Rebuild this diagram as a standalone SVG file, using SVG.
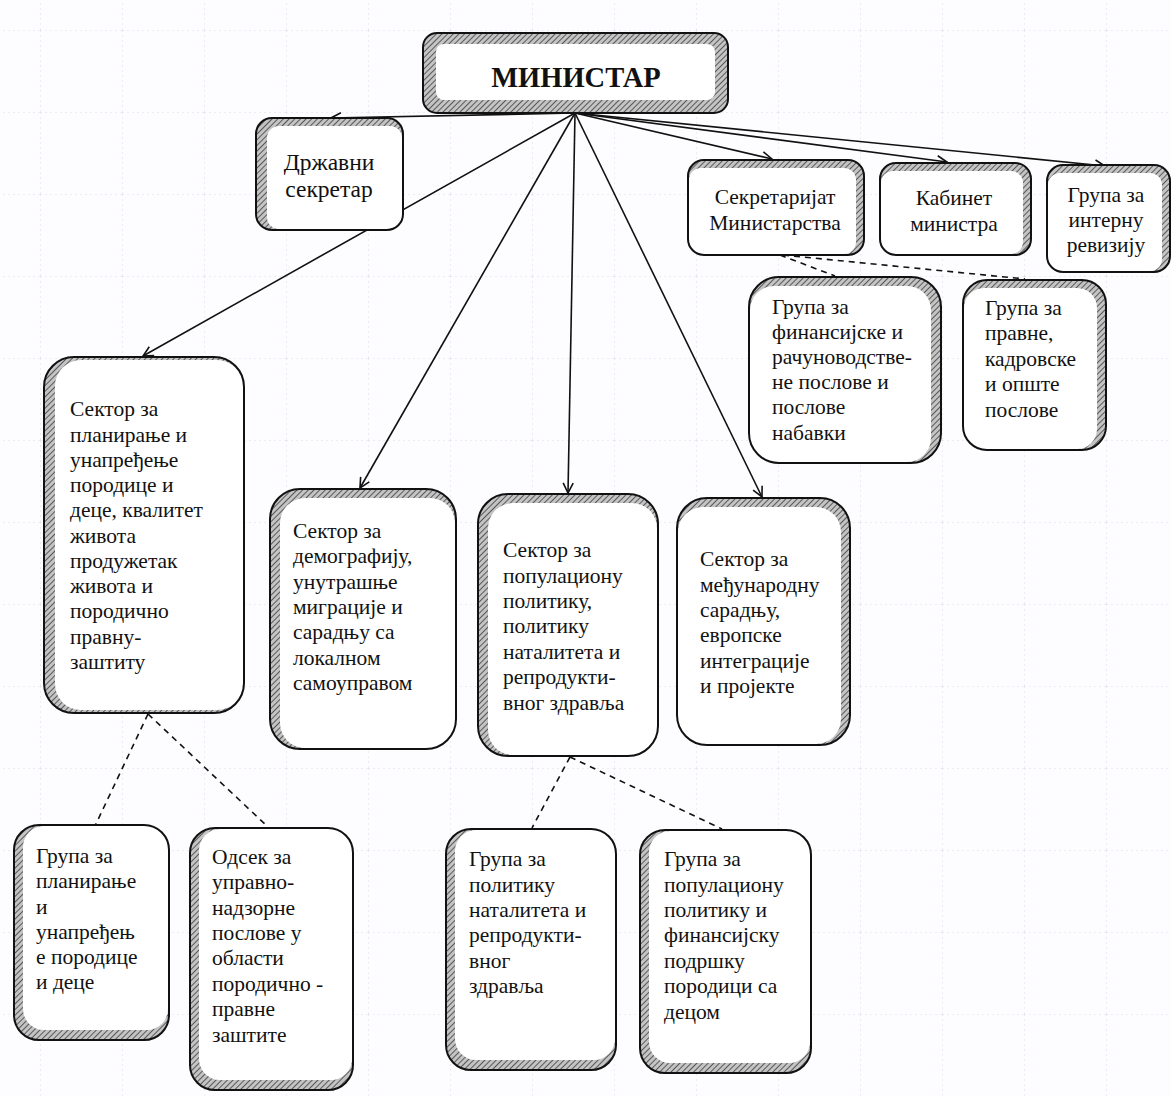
<svg xmlns="http://www.w3.org/2000/svg" width="1171" height="1096" viewBox="0 0 1171 1096">
<defs>
<pattern id="hatch" patternUnits="userSpaceOnUse" width="4" height="4" patternTransform="rotate(45)">
<rect width="4" height="4" fill="#c4c4c4"/>
<line x1="0" y1="0" x2="0" y2="4" stroke="#444" stroke-width="1.7"/>
</pattern>
<pattern id="grid" patternUnits="userSpaceOnUse" width="82" height="82" x="40" y="30">
<path d="M0,0 H82 M0,0 V82" fill="none" stroke="#dcdce6" stroke-width="1" stroke-dasharray="2 3"/>
</pattern>
<marker id="arr" viewBox="0 0 12 12" refX="11" refY="6" markerWidth="12" markerHeight="12" markerUnits="userSpaceOnUse" orient="auto">
<path d="M1,1 L11,6 L1,11" fill="none" stroke="#111" stroke-width="1.6"/>
</marker>
<style>
.o{fill:url(#hatch);stroke:none}
.i{fill:#fff;stroke:none}
.b{fill:none;stroke:#111;stroke-width:2}
text{font-family:'Liberation Serif','DejaVu Serif',serif;font-size:21.5px;fill:#111}
.c{text-anchor:middle}
.big{font-size:28.5px;font-weight:bold}
.mid{font-size:23.5px}
.l{stroke:#111;stroke-width:1.6;fill:none}
.d{stroke:#111;stroke-width:1.6;fill:none;stroke-dasharray:6 5}
</style>
</defs>
<rect width="1171" height="1096" fill="#fdfcfe"/>
<rect width="1171" height="1096" fill="url(#grid)"/>

<g id="connectors">
<line class="l" x1="575" y1="113" x2="331" y2="118" marker-end="url(#arr)"/>
<line class="l" x1="575" y1="113" x2="143" y2="356" marker-end="url(#arr)"/>
<line class="l" x1="575" y1="113" x2="360" y2="488" marker-end="url(#arr)"/>
<line class="l" x1="575" y1="113" x2="568" y2="493" marker-end="url(#arr)"/>
<line class="l" x1="575" y1="113" x2="762" y2="497" marker-end="url(#arr)"/>
<line class="l" x1="575" y1="113" x2="772" y2="159" marker-end="url(#arr)"/>
<line class="l" x1="575" y1="113" x2="947" y2="162" marker-end="url(#arr)"/>
<line class="l" x1="575" y1="113" x2="1105" y2="166" marker-end="url(#arr)"/>
<line class="d" x1="780" y1="255" x2="835" y2="276"/>
<line class="d" x1="783" y1="255" x2="1025" y2="279"/>
<line class="d" x1="148" y1="714" x2="95" y2="826"/>
<line class="d" x1="148" y1="714" x2="267" y2="826"/>
<line class="d" x1="570" y1="757" x2="532" y2="828"/>
<line class="d" x1="570" y1="757" x2="722" y2="829"/>
</g>

<g id="ministar">
<rect class="o" x="423" y="33" width="305" height="80" rx="14"/>
<rect class="i" x="436" y="44" width="279" height="56" rx="8"/>
<rect class="b" x="423" y="33" width="305" height="80" rx="14"/>
<text class="c big" x="576" y="87">МИНИСТАР</text>
</g>

<g id="drzavni-sekretar">
<rect class="o" x="256" y="118" width="147" height="112" rx="16"/>
<rect class="i" x="267" y="126" width="135" height="103" rx="12"/>
<rect class="b" x="256" y="118" width="147" height="112" rx="16"/>
<text class="c mid" x="329" y="170">Државни</text>
<text class="c mid" x="329" y="197">секретар</text>
</g>

<g id="sekretarijat">
<rect class="o" x="688" y="160" width="176" height="95" rx="16"/>
<rect class="i" x="689" y="168" width="167" height="86" rx="12"/>
<rect class="b" x="688" y="160" width="176" height="95" rx="16"/>
<text class="c" x="775" y="204">Секретаријат</text>
<text class="c" x="775" y="230">Министарства</text>
</g>

<g id="kabinet">
<rect class="o" x="880" y="163" width="151" height="92" rx="16"/>
<rect class="i" x="881" y="171" width="142" height="83" rx="12"/>
<rect class="b" x="880" y="163" width="151" height="92" rx="16"/>
<text class="c" x="954" y="205">Кабинет</text>
<text class="c" x="954" y="231">министра</text>
</g>

<g id="interna-revizija">
<rect class="o" x="1047" y="165" width="123" height="107" rx="16"/>
<rect class="i" x="1048" y="173" width="114" height="98" rx="12"/>
<rect class="b" x="1047" y="165" width="123" height="107" rx="16"/>
<text class="c" x="1106" y="202">Група за</text>
<text class="c" x="1106" y="227">интерну</text>
<text class="c" x="1106" y="252">ревизију</text>
</g>

<g id="grupa-finansije">
<rect class="o" x="749" y="277" width="192" height="186" rx="30"/>
<rect class="i" x="750" y="286" width="181" height="176" rx="24"/>
<rect class="b" x="749" y="277" width="192" height="186" rx="30"/>
<text x="772" y="314">Група за</text>
<text x="772" y="339">финансијске  и</text>
<text x="772" y="364">рачуноводстве-</text>
<text x="772" y="389">не  послове и</text>
<text x="772" y="414">послове</text>
<text x="772" y="440">набавки</text>
</g>

<g id="grupa-pravne">
<rect class="o" x="963" y="280" width="143" height="170" rx="24"/>
<rect class="i" x="964" y="288" width="133" height="161" rx="20"/>
<rect class="b" x="963" y="280" width="143" height="170" rx="24"/>
<text x="985" y="315">Група за</text>
<text x="985" y="340">правне,</text>
<text x="985" y="366">кадровске</text>
<text x="985" y="391">и опште</text>
<text x="985" y="417">послове</text>
</g>

<g id="sektor-planiranje">
<rect class="o" x="44" y="357" width="200" height="356" rx="30"/>
<rect class="i" x="55" y="360" width="188" height="350" rx="26"/>
<rect class="b" x="44" y="357" width="200" height="356" rx="30"/>
<text x="70" y="416">Сектор за</text>
<text x="70" y="442">планирање  и</text>
<text x="70" y="467">унапређење</text>
<text x="70" y="492">породице  и</text>
<text x="70" y="517">деце, квалитет</text>
<text x="70" y="543">живота</text>
<text x="70" y="568">продужетак</text>
<text x="70" y="593">живота и</text>
<text x="70" y="618">породично</text>
<text x="70" y="644">правну-</text>
<text x="70" y="669">заштиту</text>
</g>

<g id="sektor-demografija">
<rect class="o" x="270" y="489" width="186" height="260" rx="30"/>
<rect class="i" x="280" y="498" width="175" height="250" rx="25"/>
<rect class="b" x="270" y="489" width="186" height="260" rx="30"/>
<text x="293" y="538">Сектор за</text>
<text x="293" y="563">демографију,</text>
<text x="293" y="589">унутрашње</text>
<text x="293" y="614">миграције  и</text>
<text x="293" y="639">сарадњу са</text>
<text x="293" y="665">локалном</text>
<text x="293" y="690">самоуправом</text>
</g>

<g id="sektor-populaciona">
<rect class="o" x="478" y="494" width="180" height="262" rx="30"/>
<rect class="i" x="488" y="503" width="169" height="252" rx="25"/>
<rect class="b" x="478" y="494" width="180" height="262" rx="30"/>
<text x="503" y="557">Сектор за</text>
<text x="503" y="583">популациону</text>
<text x="503" y="608">политику,</text>
<text x="503" y="633">политику</text>
<text x="503" y="659">наталитета и</text>
<text x="503" y="684">репродукти-</text>
<text x="503" y="710">вног  здравља</text>
</g>

<g id="sektor-medjunarodna">
<rect class="o" x="677" y="498" width="173" height="247" rx="30"/>
<rect class="i" x="678" y="507" width="163" height="237" rx="25"/>
<rect class="b" x="677" y="498" width="173" height="247" rx="30"/>
<text x="700" y="566">Сектор за</text>
<text x="700" y="592">међународну</text>
<text x="700" y="617">сарадњу,</text>
<text x="700" y="642">европске</text>
<text x="700" y="668">интеграције</text>
<text x="700" y="693">и пројекте</text>
</g>

<g id="grupa-planiranje">
<rect class="o" x="14" y="825" width="155" height="215" rx="25"/>
<rect class="i" x="23" y="826" width="145" height="204" rx="21"/>
<rect class="b" x="14" y="825" width="155" height="215" rx="25"/>
<text x="36" y="863">Група за</text>
<text x="36" y="888">планирање</text>
<text x="36" y="914">и</text>
<text x="36" y="939">унапређењ</text>
<text x="36" y="964">е породице</text>
<text x="36" y="989">и деце</text>
</g>

<g id="odsek-upravno">
<rect class="o" x="190" y="828" width="163" height="262" rx="25"/>
<rect class="i" x="199" y="829" width="153" height="251" rx="21"/>
<rect class="b" x="190" y="828" width="163" height="262" rx="25"/>
<text x="212" y="864">Одсек за</text>
<text x="212" y="889">управно-</text>
<text x="212" y="915">надзорне</text>
<text x="212" y="940">послове у</text>
<text x="212" y="965">области</text>
<text x="212" y="991">породично  -</text>
<text x="212" y="1016">правне</text>
<text x="212" y="1042">заштите</text>
</g>

<g id="grupa-natalitet">
<rect class="o" x="446" y="829" width="170" height="241" rx="25"/>
<rect class="i" x="455" y="830" width="160" height="230" rx="21"/>
<rect class="b" x="446" y="829" width="170" height="241" rx="25"/>
<text x="469" y="866">Група за</text>
<text x="469" y="892">политику</text>
<text x="469" y="917">наталитета и</text>
<text x="469" y="942">репродукти-</text>
<text x="469" y="968">вног</text>
<text x="469" y="993">здравља</text>
</g>

<g id="grupa-populaciona">
<rect class="o" x="640" y="830" width="171" height="243" rx="25"/>
<rect class="i" x="649" y="831" width="161" height="232" rx="21"/>
<rect class="b" x="640" y="830" width="171" height="243" rx="25"/>
<text x="664" y="866">Група за</text>
<text x="664" y="892">популациону</text>
<text x="664" y="917">политику  и</text>
<text x="664" y="942">финансијску</text>
<text x="664" y="968">подршку</text>
<text x="664" y="993">породици  са</text>
<text x="664" y="1019">децом</text>
</g>
</svg>
